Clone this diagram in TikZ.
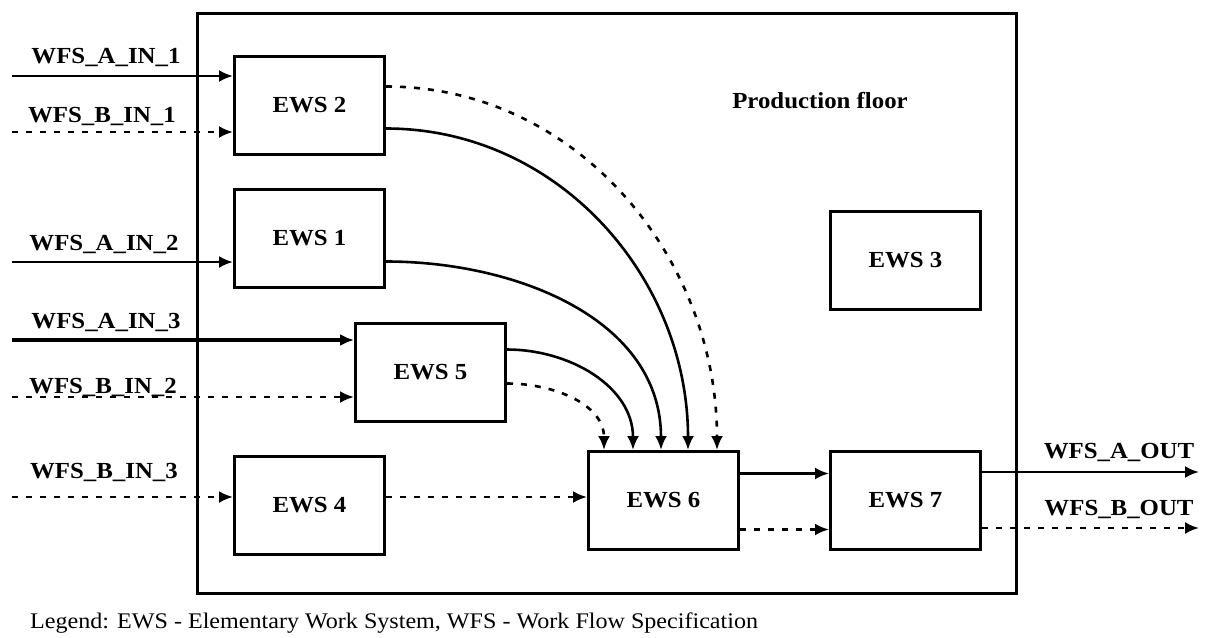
\documentclass[tikz,border=0pt]{standalone}
\usepackage{fontspec}
\setmainfont{Liberation Serif}[FakeStretch=1.08]
\usetikzlibrary{arrows.meta}
\begin{document}
\begin{tikzpicture}[x=1pt,y=-1pt,
  txt/.style={font=\fontsize{23}{27}\selectfont\bfseries},
  ews/.style={draw, line width=3pt, minimum width=150pt, minimum height=98pt, inner sep=0pt, anchor=north west, txt},
  flow/.style={line width=2.6pt, -{Latex[length=14pt,width=12pt]}},
  thickflow/.style={flow, line width=3.4pt},
  bflow/.style={flow, dash pattern=on 6pt off 8pt},
  lbl/.style={anchor=base, inner sep=0pt, txt}]
\useasboundingbox (0,0) rectangle (1217,637);
\node[draw, line width=3pt, minimum width=819pt, minimum height=580pt, inner sep=0pt, anchor=north west] (floor) at (196,12) {};
\node[lbl] (pf) at (820,108) {Production floor};
\node[ews] (e2) at (233,55) {EWS 2};
\node[ews] (e1) at (233,188) {EWS 1};
\node[ews] (e5) at (354,322) {EWS 5};
\node[ews] (e4) at (233,455) {EWS 4};
\node[ews] (e6) at (587,450) {EWS 6};
\node[ews] (e7) at (829,450) {EWS 7};
\node[ews] (e3) at (829,210) {EWS 3};
% input free ends
\coordinate (ia1) at (12,76);
\coordinate (ib1) at (12,132);
\coordinate (ia2) at (12,262);
\coordinate (ia3) at (12,340);
\coordinate (ib2) at (12,397);
\coordinate (ib3) at (12,497);
\coordinate (oa) at (1199,472);
\coordinate (ob) at (1199,528);
% labels
\node[lbl] (lia1) at (106,63) {WFS\_A\_IN\_1};
\node[lbl] (lib1) at (102,122) {WFS\_B\_IN\_1};
\node[lbl] (lia2) at (104,250) {WFS\_A\_IN\_2};
\node[lbl] (lia3) at (106,328) {WFS\_A\_IN\_3};
\node[lbl] (lib2) at (103,393) {WFS\_B\_IN\_2};
\node[lbl] (lib3) at (104,478) {WFS\_B\_IN\_3};
\node[lbl] (loa) at (1119,458) {WFS\_A\_OUT};
\node[lbl] (lob) at (1119,515) {WFS\_B\_OUT};
\node[anchor=base west, inner sep=0pt, font=\fontsize{22.3}{26}\selectfont] (legend) at (30,628) {Legend: EWS - Elementary Work System, WFS - Work Flow Specification};
% inputs
\draw[flow] (ia1) -- (ia1 -| e2.west);
\draw[bflow] (ib1) -- (ib1 -| e2.west);
\draw[flow] (ia2) -- (ia2 -| e1.west);
\draw[thickflow] (ia3) -- (ia3 -| e5.west);
\draw[bflow] (ib2) -- (ib2 -| e5.west);
\draw[bflow] (ib3) -- (ib3 -| e4.west);
% to EWS 6
\draw[bflow] (ib3 -| e4.east) -- (ib3 -| e6.west);
\draw[bflow] ([yshift=-11pt]e5.east) to[out=0,in=90] ([xshift=-59.5pt]e6.north);
\draw[flow] ([yshift=23pt]e5.east) to[out=0,in=90] ([xshift=-30.5pt]e6.north);
\draw[flow] ([yshift=-23pt]e1.east) to[out=0,in=90] ([xshift=-2.5pt]e6.north);
\draw[flow] ([yshift=-23pt]e2.east) to[out=0,in=90] ([xshift=24.5pt]e6.north);
\draw[bflow] ([yshift=19pt]e2.east) to[out=0,in=90] ([xshift=53.5pt]e6.north);
% EWS 6 to EWS 7
\draw[flow] ([yshift=27pt]e6.east) -- ([yshift=27pt]e7.west);
\draw[bflow] ([yshift=-29pt]e6.east) -- ([yshift=-29pt]e7.west);
% outputs
\draw[flow] (oa -| e7.east) -- (oa);
\draw[bflow] (ob -| e7.east) -- (ob);
\end{tikzpicture}
\end{document}
